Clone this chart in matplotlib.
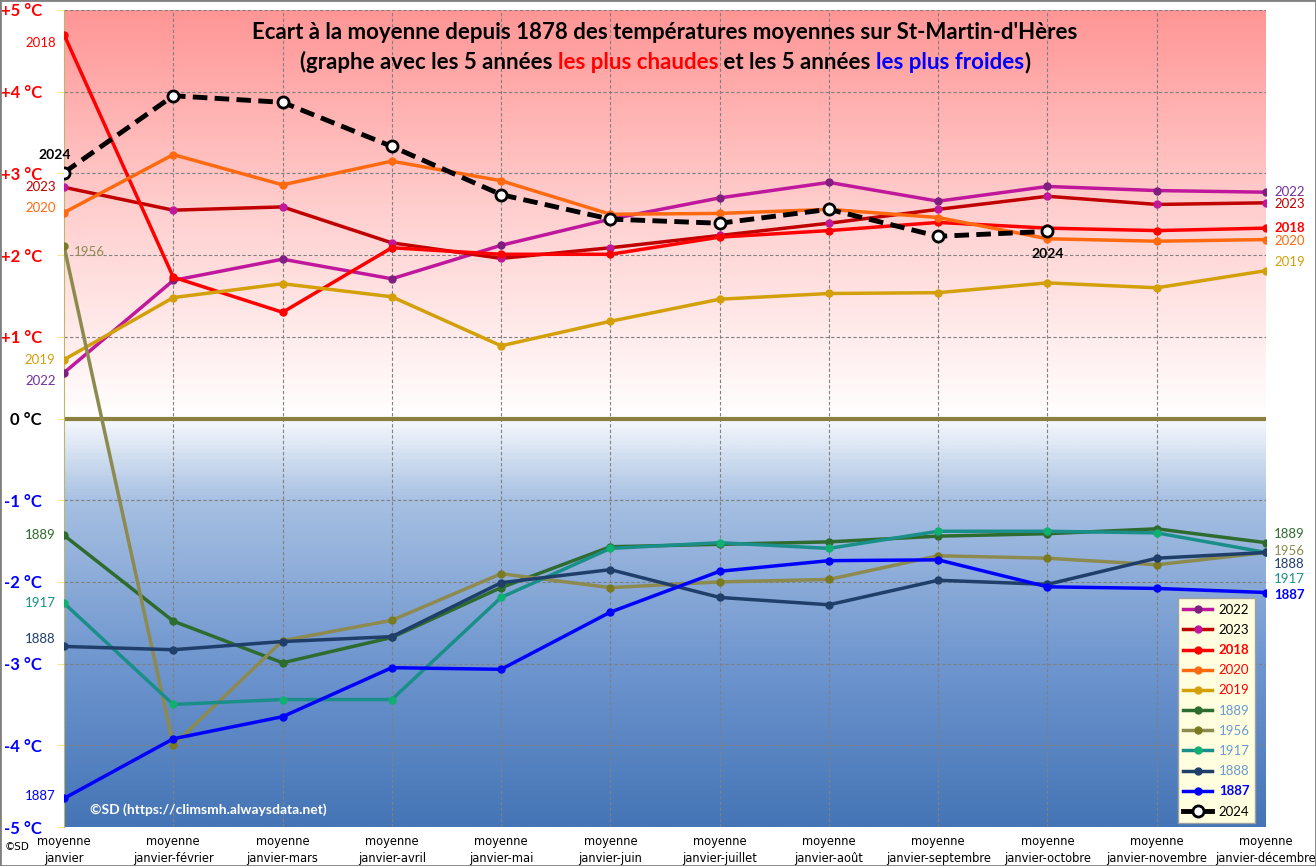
import numpy as np
import matplotlib.pyplot as plt
from matplotlib.colors import LinearSegmentedColormap
from matplotlib.lines import Line2D

plt.rcParams['font.family'] = ['Lato', 'DejaVu Sans']

months = ["moyenne\njanvier", "moyenne\njanvier-février", "moyenne\njanvier-mars",
          "moyenne\njanvier-avril", "moyenne\njanvier-mai", "moyenne\njanvier-juin",
          "moyenne\njanvier-juillet", "moyenne\njanvier-août", "moyenne\njanvier-septembre",
          "moyenne\njanvier-octobre", "moyenne\njanvier-novembre", "moyenne\njanvier-décembre"]

y2022 = [0.56, 1.69, 1.95, 1.71, 2.12, 2.44, 2.70, 2.89, 2.66, 2.84, 2.79, 2.77]
y2023 = [2.83, 2.55, 2.59, 2.15, 1.96, 2.09, 2.24, 2.39, 2.56, 2.72, 2.62, 2.64]
y2018 = [4.70, 1.73, 1.30, 2.09, 2.01, 2.01, 2.22, 2.30, 2.40, 2.33, 2.30, 2.33]
y2020 = [2.52, 3.23, 2.86, 3.15, 2.91, 2.50, 2.51, 2.56, 2.46, 2.20, 2.17, 2.19]
y2019 = [0.72, 1.48, 1.65, 1.49, 0.89, 1.19, 1.46, 1.53, 1.54, 1.66, 1.60, 1.81]
y1889 = [-1.43, -2.48, -2.99, -2.68, -2.07, -1.57, -1.54, -1.51, -1.44, -1.41, -1.35, -1.52]
y1956 = [2.11, -4.00, -2.72, -2.47, -1.90, -2.07, -2.00, -1.97, -1.68, -1.71, -1.79, -1.64]
y1917 = [-2.26, -3.50, -3.44, -3.44, -2.19, -1.59, -1.52, -1.59, -1.38, -1.38, -1.40, -1.64]
y1888 = [-2.79, -2.83, -2.73, -2.67, -2.01, -1.85, -2.19, -2.28, -1.98, -2.03, -1.71, -1.64]
y1887 = [-4.65, -3.92, -3.65, -3.05, -3.07, -2.37, -1.87, -1.74, -1.73, -2.06, -2.08, -2.13]
y2024 = [3.01, 3.95, 3.87, 3.33, 2.74, 2.44, 2.39, 2.56, 2.23, 2.29]

# name, values, line colour, marker colour, legend text colour, bold legend
series = [
    ("2022", y2022, "#C0189C", "#7F1F7F", "black", False),
    ("2023", y2023, "#C00000", "#C0189C", "black", False),
    ("2018", y2018, "#FF0000", "#FF0000", "#FF0000", True),
    ("2020", y2020, "#FF6A10", "#FF6A10", "#FF0000", False),
    ("2019", y2019, "#D4A00A", "#D4A00A", "#FF0000", False),
    ("1889", y1889, "#2E6B2E", "#2E6B2E", "#6A9AD0", False),
    ("1956", y1956, "#8C8A4E", "#7A7A20", "#6A9AD0", False),
    ("1917", y1917, "#1A8F8A", "#10B070", "#6A9AD0", False),
    ("1888", y1888, "#1F3F6A", "#1F3F6A", "#6A9AD0", False),
    ("1887", y1887, "#0000FF", "#0000FF", "#0000FF", True),
]

fig = plt.figure(figsize=(13.16, 8.66), dpi=100)
ax = fig.add_axes([64 / 1316, 39 / 866, 1202 / 1316, 817 / 866])
fig.patches.append(plt.Rectangle((0, 0), 1, 1, transform=fig.transFigure,
                                 fill=False, edgecolor="#808080", lw=2))

x = np.arange(len(months))
ax.set_xlim(0, len(months) - 1)
ax.set_ylim(-5, 5)

# background gradient
cmap = LinearSegmentedColormap.from_list("bg", [
    (0.0, "#4575B6"), (0.2, "#6F96CF"), (0.4, "#A7C0E2"),
    (0.5, "#F7F9FD"), (0.5001, "#FFFFFF"), (0.75, "#FFD0D0"), (1.0, "#FF9696")])
grad = np.linspace(0, 1, 500).reshape(-1, 1)
ax.imshow(grad, cmap=cmap, origin="lower", aspect="auto",
          extent=[0, len(months) - 1, -5, 5], zorder=0)

for v in range(-5, 6):
    if v != 0:
        ax.axhline(v, color="#808080", lw=0.8, ls=(0, (3, 2)), zorder=1)
for xi in x[1:-1]:
    ax.axvline(xi, color="#808080", lw=0.8, ls=(0, (3, 2)), zorder=1)
ax.axhline(0, color="#8C8040", lw=3, zorder=2)

handles = []
for name, vals, lc, mc, tc, bold in series:
    ax.plot(x, vals, color=lc, lw=2.5, marker="o", ms=5, mfc=mc, mec=mc, zorder=3)
    handles.append(Line2D([], [], color=lc, lw=2.5, marker="o", ms=5, mfc=mc, mec=mc))

x24 = np.arange(len(y2024))
ax.plot(x24, y2024, color="black", lw=3.5, ls=(0, (3, 1.5)), marker="o", ms=8,
        mfc="white", mec="black", mew=2, zorder=4)
handles.append(Line2D([], [], color="black", lw=3.5, marker="o", ms=8,
                      mfc="white", mec="black", mew=2))

# start labels
start_labels = [
    ("2018", y2018[0], "#FF0000", -6, -6, "right"),
    ("2023", y2023[0], "#C00000", -6, 0, "right"),
    ("2020", y2020[0], "#FF6A10", -6, 3, "right"),
    ("2019", y2019[0], "#D4A00A", -6, 0, "right"),
    ("2022", y2022[0], "#7030A0", -6, -6, "right"),
    ("1889", y1889[0], "#2E6B2E", -6, 0, "right"),
    ("1917", y1917[0], "#1A8F8A", -6, 0, "right"),
    ("1888", y1888[0], "#1F3F6A", -6, 5, "right"),
    ("1887", y1887[0], "#0000FF", -6, 2, "right"),
]
for t, v, c, dx, dy, ha in start_labels:
    ax.annotate(t, (0, v), xytext=(dx, dy), textcoords="offset points",
                ha=ha, va="center", color=c, fontsize=9.5, annotation_clip=False)
ax.annotate("1956", (0, y1956[0]), xytext=(7, -4), textcoords="offset points",
            ha="left", va="center", color="#8C8A4E", fontsize=9.5, annotation_clip=False)
ax.annotate("2024", (0, y2024[0]), xytext=(-7, 13), textcoords="offset points",
            ha="center", va="center", color="black", fontsize=10, fontweight="bold",
            annotation_clip=False)
ax.annotate("2024", (x24[-1], y2024[-1]), xytext=(0, -16), textcoords="offset points",
            ha="center", va="center", color="black", fontsize=10, fontweight="bold")

# end labels
end_labels = [
    ("2022", y2022[-1], "#7030A0", 0, False),
    ("2023", y2023[-1], "#C00000", -1, False),
    ("2018", y2018[-1], "#FF0000", 0, True),
    ("2020", y2020[-1], "#FF6A10", -1, False),
    ("2019", y2019[-1], "#D4A00A", 6, False),
    ("1889", y1889[-1], "#2E6B2E", 6, False),
    ("1956", y1956[-1], "#8C8A4E", 1, False),
    ("1888", y1888[-1], "#1F3F6A", -8, False),
    ("1917", y1917[-1], "#1A8F8A", -19, False),
    ("1887", y1887[-1], "#0000FF", -2, True),
]
for t, v, c, dy, bold in end_labels:
    ax.annotate(t, (x[-1], v), xytext=(6, dy), textcoords="offset points",
                ha="left", va="center", color=c, fontsize=9.5,
                fontweight="bold" if bold else "normal", annotation_clip=False)

# axes and ticks
ax.set_xticks(x)
ax.set_xticklabels(months, fontsize=8.3, family=["DejaVu Sans"], linespacing=1.35)
ax.tick_params(axis="x", length=0, pad=6)
yt = list(range(-5, 6))
ax.set_yticks(yt)
ylabels = []
for v in yt:
    if v > 0:
        ylabels.append(f"+{v} °C")
    elif v == 0:
        ylabels.append("0 °C")
    else:
        ylabels.append(f"-{-v} °C")
ax.set_yticklabels(ylabels, fontsize=12, fontweight="bold")
for lab, v in zip(ax.get_yticklabels(), yt):
    lab.set_color("#FF0000" if v > 0 else ("black" if v == 0 else "#0000FF"))
ax.tick_params(axis="y", length=5, color="#F0E68C", pad=11)
for s in ["top", "right", "bottom"]:
    ax.spines[s].set_visible(False)
ax.spines["left"].set_color("#BDB76B")

leg = ax.legend(handles, [s[0] for s in series] + ["2024"], loc="lower right",
                fontsize=9.5, facecolor="#FFFFE0", edgecolor="#A0A0A0", framealpha=1,
                fancybox=False, borderpad=0.4, labelspacing=0.62, handlelength=2.2,
                handletextpad=0.5, bbox_to_anchor=(0.9965, -0.003))
leg.set_zorder(10)
for txt, s in zip(leg.get_texts(), series):
    txt.set_color(s[4])
    if s[5]:
        txt.set_fontweight("bold")

ax.text(0.022, 0.016, "©SD (https://climsmh.alwaysdata.net)", transform=ax.transAxes,
        color="white", fontsize=10, fontweight="bold", zorder=5)
fig.text(5 / 1316, 1 - 847 / 866, "©SD", fontsize=7.5, va="center", family=["DejaVu Sans"])

# title
ax.text(0.5, 0.972, "Ecart à la moyenne depuis 1878 des températures moyennes sur St-Martin-d'Hères",
        transform=ax.transAxes, ha="center", va="center", fontsize=16, fontweight="bold", zorder=6)
pieces = [("(graphe avec les 5 années ", "black"), ("les plus chaudes", "#FF0000"),
          (" et les 5 années ", "black"), ("les plus froides", "#0000FF"), (")", "black")]
first = ax.text(0.2, 0.936, pieces[0][0], transform=ax.transAxes, ha="left", va="center",
                fontsize=16, fontweight="bold", color=pieces[0][1], zorder=6)
parts = [first]
prev = first
for t, c in pieces[1:]:
    prev = ax.annotate(t, xy=(1, 0), xycoords=prev, va="bottom", ha="left",
                       fontsize=16, fontweight="bold", color=c, zorder=6)
    parts.append(prev)
fig.canvas.draw()
r = fig.canvas.get_renderer()
x0 = parts[0].get_window_extent(r).x0
x1 = parts[-1].get_window_extent(r).x1
axb = ax.get_window_extent(r)
centre = axb.x0 + 0.5 * axb.width
first.set_x((centre - (x1 - x0) / 2 - axb.x0) / axb.width)

fig.savefig("out.png", dpi=100)
